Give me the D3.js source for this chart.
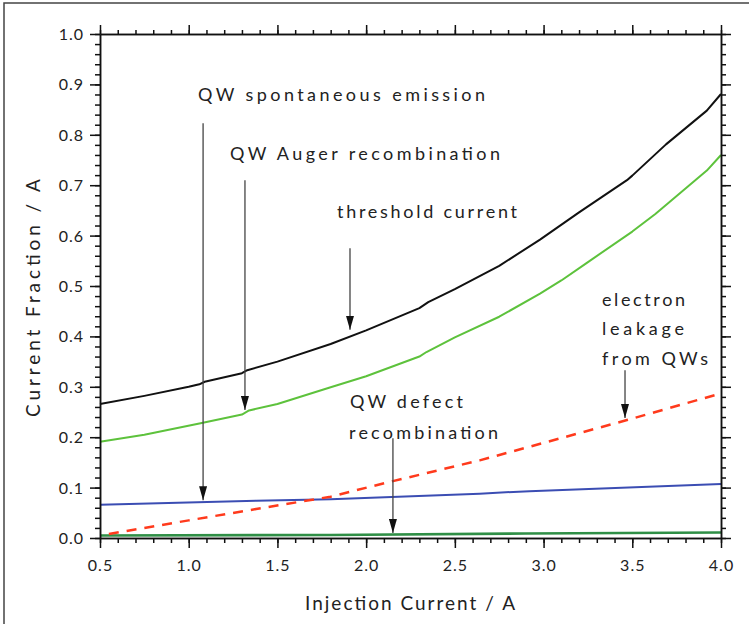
<!DOCTYPE html>
<html>
<head>
<meta charset="utf-8">
<script src="https://cdn.jsdelivr.net/npm/d3@7"></script>
<style>
  body { margin: 0; background: #fff; }
  text { font-family: Lato, "Open Sans", sans-serif; fill: #222; }
</style>
</head>
<body>
<div class="chart"></div>
<script>
// threshold current (black)
var thresholdI = [0.5, 0.75, 1.0, 1.06, 1.09, 1.3, 1.33, 1.5, 1.8, 2.0, 2.3, 2.35, 2.5, 2.75, 2.98, 3.2, 3.47, 3.5, 3.69, 3.92, 4.0];
var thresholdA = [0.266, 0.282, 0.300, 0.305, 0.310, 0.327, 0.333, 0.350, 0.385, 0.412, 0.456, 0.468, 0.494, 0.540, 0.592, 0.646, 0.710, 0.719, 0.781, 0.848, 0.881];
// QW Auger recombination (light green)
var augerI = [0.5, 0.75, 1.06, 1.3, 1.34, 1.5, 1.8, 2.0, 2.3, 2.34, 2.5, 2.75, 2.98, 3.1, 3.24, 3.5, 3.63, 3.92, 4.0];
var augerA = [0.191, 0.205, 0.227, 0.245, 0.253, 0.266, 0.299, 0.321, 0.360, 0.369, 0.398, 0.439, 0.485, 0.511, 0.545, 0.608, 0.643, 0.729, 0.760];
// electron leakage from QWs (red dashed)
var leakI = [0.55, 0.75, 1.0, 1.38, 1.8, 2.14, 2.64, 2.92, 3.47, 4.0];
var leakA = [0.008, 0.020, 0.035, 0.0575, 0.082, 0.112, 0.154, 0.181, 0.234, 0.287];
// QW spontaneous emission (blue)
var spontI = [0.5, 1.38, 1.8, 2.64, 2.92, 4.0];
var spontA = [0.066, 0.074, 0.077, 0.088, 0.093, 0.107];
// QW defect recombination (dark green)
var defectI = [0.5, 1.8, 2.9, 4.0];
var defectA = [0.005, 0.006, 0.009, 0.011];

var xTicks = [0.5, 1.0, 1.5, 2.0, 2.5, 3.0, 3.5, 4.0];
var yTicks = [0, 0.1, 0.2, 0.3, 0.4, 0.5, 0.6, 0.7, 0.8, 0.9, 1.0];

var width = 749, height = 624;
var plotLeft = 100, plotRight = 721, plotTop = 34, plotBottom = 538;

var svg = d3.select('.chart').append('svg')
    .attr('width', width)
    .attr('height', height);

svg.append('rect').attr('width', width).attr('height', height).attr('fill', '#fff');
// figure frame (only left and top visible)
svg.append('rect')
    .attr('x', 4).attr('y', 3).attr('width', 800).attr('height', 700)
    .attr('fill', 'none').attr('stroke', '#444').attr('stroke-width', 1.5);

var x = d3.scaleLinear().domain([0.5, 4.0]).range([plotLeft, plotRight]);
var y = d3.scaleLinear().domain([0, 1.0]).range([plotBottom, plotTop]);

/* series */
var line = d3.line().x(d => x(d[0])).y(d => y(d[1]));
function zip(a, b) { return a.map((v, i) => [v, b[i]]); }

var series = [
  {pts: zip(defectI, defectA), color: '#2f8f46', w: 2.6},
  {pts: zip(spontI, spontA), color: '#3b4db3', w: 2},
  {pts: zip(leakI, leakA), color: '#ff3a1c', w: 2.5, dash: '10,8'},
  {pts: zip(augerI, augerA), color: '#5dc23c', w: 2},
  {pts: zip(thresholdI, thresholdA), color: '#111', w: 2}
];

svg.append('g').selectAll('path')
    .data(series).enter()
    .append('path')
    .attr('d', d => line(d.pts))
    .attr('fill', 'none')
    .attr('stroke', d => d.color)
    .attr('stroke-width', d => d.w)
    .attr('stroke-linejoin', 'round')
    .attr('stroke-dasharray', d => d.dash || null);

/* axes */
var xMinor = d3.range(5, 41).map(v => v / 10);
var yMinor = d3.range(0, 51).map(v => v / 50);

function styleAxis(g) {
  g.selectAll('.domain').attr('stroke', '#111').attr('stroke-width', 1.5);
  g.selectAll('.tick line').attr('stroke', '#111').attr('stroke-width', 1.5);
}

svg.append('g').attr('transform', `translate(0,${plotBottom})`)
    .call(d3.axisBottom(x).tickValues(xMinor).tickSize(5).tickFormat('').tickSizeOuter(0)).call(styleAxis);
svg.append('g').attr('transform', `translate(0,${plotBottom})`)
    .call(d3.axisBottom(x).tickValues(xTicks).tickSize(10).tickSizeOuter(0).tickFormat(d3.format('.1f')))
    .call(styleAxis)
    .call(g => g.selectAll('text').attr('y', 22).style('font-size', '16px').style('letter-spacing', '1px').attr('fill', '#222'));

svg.append('g').attr('transform', `translate(0,${plotTop})`)
    .call(d3.axisTop(x).tickValues(xMinor).tickSize(4).tickFormat('').tickSizeOuter(0)).call(styleAxis);
svg.append('g').attr('transform', `translate(0,${plotTop})`)
    .call(d3.axisTop(x).tickValues(xTicks).tickSize(9).tickFormat('').tickSizeOuter(0)).call(styleAxis);

svg.append('g').attr('transform', `translate(${plotLeft},0)`)
    .call(d3.axisLeft(y).tickValues(yMinor).tickSize(5).tickFormat('').tickSizeOuter(0)).call(styleAxis);
svg.append('g').attr('transform', `translate(${plotLeft},0)`)
    .call(d3.axisLeft(y).tickValues(yTicks).tickSize(10).tickSizeOuter(0).tickFormat(d3.format('.1f')))
    .call(styleAxis)
    .call(g => g.selectAll('text').attr('x', -16).attr('dy', '0.34em').style('font-size', '16px').style('letter-spacing', '1px').attr('fill', '#222'));

svg.append('g').attr('transform', `translate(${plotRight},0)`)
    .call(d3.axisRight(y).tickValues(yMinor).tickSize(5).tickFormat('').tickSizeOuter(0)).call(styleAxis);
svg.append('g').attr('transform', `translate(${plotRight},0)`)
    .call(d3.axisRight(y).tickValues(yTicks).tickSize(10).tickFormat('').tickSizeOuter(0)).call(styleAxis);

/* axis titles */
svg.append('text')
    .attr('x', 410).attr('y', 610)
    .attr('text-anchor', 'middle')
    .attr('textLength', 210).attr('lengthAdjust', 'spacing')
    .style('font-size', '19px')
    .text('Injection Current / A');

svg.append('text')
    .attr('transform', 'translate(40,298) rotate(-90)')
    .attr('text-anchor', 'middle')
    .attr('textLength', 238).attr('lengthAdjust', 'spacing')
    .style('font-size', '19px')
    .text('Current Fraction / A');

/* annotations */
var defs = svg.append('defs');
defs.append('marker')
    .attr('id', 'head').attr('viewBox', '0 0 8 14')
    .attr('refX', 4).attr('refY', 14)
    .attr('markerWidth', 8).attr('markerHeight', 14)
    .attr('markerUnits', 'userSpaceOnUse')
    .attr('orient', 0)
    .append('path').attr('d', 'M0,0 L8,0 L4,14 Z').attr('fill', '#111');

var arrows = [
  {i: 1.081, from: 0.823, to: 0.075},
  {i: 1.317, from: 0.710, to: 0.254},
  {i: 1.909, from: 0.575, to: 0.413},
  {i: 3.459, from: 0.333, to: 0.238},
  {i: 2.151, from: 0.198, to: 0.010}
];
svg.append('g').selectAll('line')
    .data(arrows).enter()
    .append('line')
    .attr('x1', d => x(d.i)).attr('x2', d => x(d.i))
    .attr('y1', d => y(d.from)).attr('y2', d => y(d.to))
    .attr('stroke', '#444').attr('stroke-width', 1.3)
    .attr('marker-end', 'url(#head)');

var labels = [
  {t: 'QW spontaneous emission', x: 198, y: 101, len: 287},
  {t: 'QW Auger recombination', x: 230, y: 160, len: 270},
  {t: 'threshold current', x: 337, y: 218, len: 180},
  {t: 'electron', x: 602, y: 306, len: 83},
  {t: 'leakage', x: 602, y: 335, len: 82},
  {t: 'from QWs', x: 602, y: 365, len: 106},
  {t: 'QW defect', x: 350, y: 408, len: 113},
  {t: 'recombination', x: 349, y: 439, len: 149}
];
svg.append('g').selectAll('text')
    .data(labels).enter()
    .append('text')
    .attr('x', d => d.x).attr('y', d => d.y)
    .attr('textLength', d => d.len).attr('lengthAdjust', 'spacing')
    .style('font-size', '18px')
    .text(d => d.t);
</script>
</body>
</html>
